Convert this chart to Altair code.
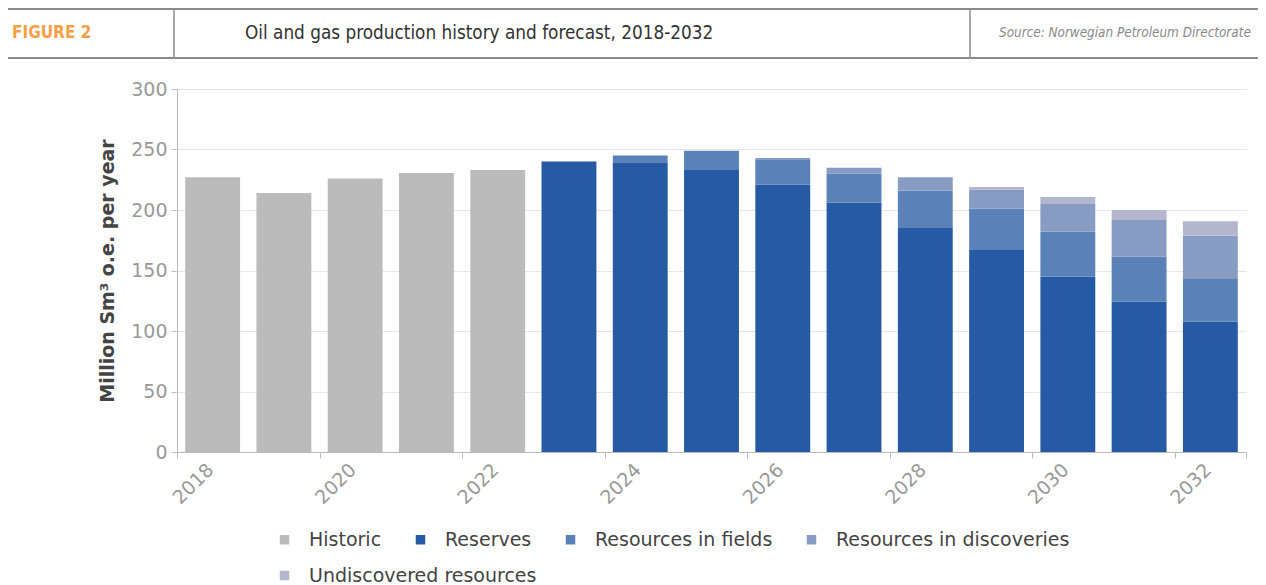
import altair as alt
import pandas as pd

# ---- data ----
hist_years = [2018, 2019, 2020, 2021, 2022]
historic = [227, 214, 226, 230.5, 233]

fc_years = [2023, 2024, 2025, 2026, 2027, 2028, 2029, 2030, 2031, 2032]
reserves = [240, 239.4, 233.6, 221, 206, 185.7, 167, 145, 124.2, 107.7]
res_fields = [0, 5.6, 15.4, 21, 24, 30.3, 34, 37, 37.2, 35.3]
res_discoveries = [0, 0, 0, 1, 5, 11, 16, 23, 30.3, 35.8]
undiscovered = [0, 0, 0, 0, 0, 0, 2, 5.7, 8.3, 11.8]

series_names = ["Historic", "Reserves", "Resources in fields",
                "Resources in discoveries", "Undiscovered resources"]
series_colors = ["#bbbbbb", "#265aa5", "#5a82b9", "#879bc3", "#b4b6cd"]

y_ticks = [0, 50, 100, 150, 200, 250, 300]
x_ticks = [2018, 2020, 2022, 2024, 2026, 2028, 2030, 2032, 2033]

rows = []
for yr, v in zip(hist_years, historic):
    rows.append({"year": yr, "series": "Historic", "value": v, "ord": 0})
for i, yr in enumerate(fc_years):
    for k, (name, arr) in enumerate(zip(series_names[1:],
                                        [reserves, res_fields, res_discoveries, undiscovered])):
        rows.append({"year": yr, "series": name, "value": arr[i], "ord": k + 1})
df = pd.DataFrame(rows)

W, H = 1069, 363
step = W / 15.0

label_color = "#999999"
base_font = "DejaVu Sans"
cond_font = "DejaVu Sans Condensed, Liberation Sans Narrow, Arial Narrow, sans-serif"

x_enc = alt.X("x0:Q",
              scale=alt.Scale(domain=[2018, 2033], nice=False, zero=False),
              axis=alt.Axis(values=x_ticks, title=None, grid=False,
                            labelExpr="datum.value == 2033 ? '' : toString(datum.value)",
                            labelAngle=-45, labelAlign="right", labelBaseline="top",
                            labelOffset=step / 2 - 9, labelPadding=2,
                            labelFontSize=19, labelFont=base_font, labelColor=label_color,
                            tickSize=6, tickColor="#bbbbbb", domainColor="#bbbbbb",
                            labelOverlap=False, labelFlush=False, labelBound=False))
y_enc = alt.Y("y0:Q",
              scale=alt.Scale(domain=[0, 300], nice=False),
              axis=alt.Axis(values=y_ticks, title="Million Sm³ o.e. per year",
                            titleFont=base_font, titleFontSize=19, titleFontWeight="bold",
                            titleColor="#444444", titlePadding=13,
                            labelFontSize=19, labelFont=base_font, labelColor=label_color,
                            labelPadding=4, tickSize=6, tickColor="#bbbbbb",
                            domainColor="#bbbbbb", gridColor="#e6e6e6"))

legend_common = dict(title=None, orient="none", direction="horizontal",
                     symbolType="square", symbolSize=90, symbolStrokeWidth=0,
                     labelOffset=15, labelFontSize=19, labelFont=base_font,
                     labelColor="#444444", columnPadding=29, padding=0, labelLimit=400)

base = alt.Chart(df).transform_stack(
    stack="value", groupby=["year"], sort=[alt.SortField("ord", order="ascending")],
    as_=["y0", "y1"]
).transform_calculate(
    x0="datum.year + 0.115", x1="datum.year + 0.885"
)

bars_main = base.transform_filter(
    alt.datum.series != "Undiscovered resources"
).mark_bar().encode(
    x=x_enc, x2="x1:Q", y=y_enc, y2="y1:Q",
    color=alt.Color("series:N",
                    scale=alt.Scale(domain=series_names[:4], range=series_colors[:4]),
                    legend=alt.Legend(legendX=98, legendY=441, columns=4, **legend_common)),
)

bars_undisc = base.transform_filter(
    alt.datum.series == "Undiscovered resources"
).mark_bar().encode(
    x=alt.X("x0:Q"), x2="x1:Q", y=alt.Y("y0:Q"), y2="y1:Q",
    color=alt.Color("series:N",
                    scale=alt.Scale(domain=series_names[4:], range=series_colors[4:]),
                    legend=alt.Legend(legendX=98, legendY=477, **legend_common)),
)

one = alt.Data(values=[{}])


def hrule(x1, x2, y):
    return alt.Chart(one).mark_rule(color="#8c8c8c", strokeWidth=2).encode(
        x=alt.value(x1), x2=alt.value(x2), y=alt.value(y))


def vrule(x, y1, y2):
    return alt.Chart(one).mark_rule(color="#8c8c8c", strokeWidth=1.5).encode(
        x=alt.value(x), y=alt.value(y1), y2=alt.value(y2))


def text(t, x, y, **kw):
    return alt.Chart(one).mark_text(text=t, align="left", baseline="middle", **kw).encode(
        x=alt.value(x), y=alt.value(y))


header = [
    hrule(-169, 1081, -80),
    hrule(-169, 1081, -31),
    vrule(-3, -80, -31),
    vrule(793, -80, -31),
    text("FIGURE 2", -165, -56, font=cond_font, fontSize=17, fontWeight="bold",
         color="#f5a047"),
    text("Oil and gas production history and forecast, 2018-2032", 68, -56,
         font=cond_font, fontSize=18.8, color="#333333"),
    text("Source: Norwegian Petroleum Directorate", 822, -56,
         font=cond_font, fontSize=13.4, fontStyle="italic", color="#8a8a8a"),
]

chart = alt.layer(bars_main, bars_undisc, *header).resolve_scale(
    color="independent"
).properties(
    width=W, height=H,
    autosize=alt.AutoSizeParams(type="none"),
    padding={"left": 169, "top": 81, "right": 12, "bottom": 133},
).configure_view(stroke=None).configure_axis(grid=True)

chart.save("out.html", embed_options={"renderer": "svg", "actions": False})
